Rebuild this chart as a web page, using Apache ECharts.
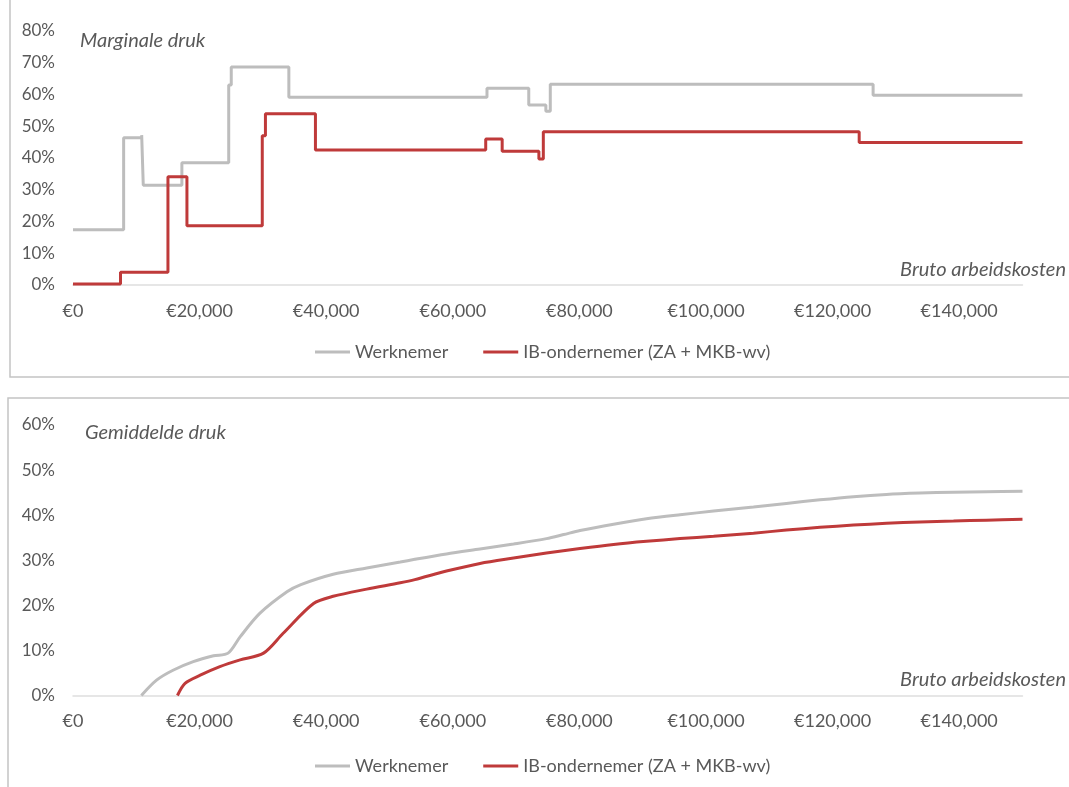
<!DOCTYPE html>
<html>
<head>
<meta charset="utf-8">
<script src="https://cdn.jsdelivr.net/npm/echarts@6/dist/echarts.min.js"></script>
<style>
  html, body { margin: 0; padding: 0; background: #fff; }
  #chart { width: 1069px; height: 787px; }
</style>
</head>
<body>
<div id="chart"></div>
<script>
// ---- Data ----
const seriesNames = ['Werknemer', 'IB-ondernemer (ZA + MKB-wv)'];
const xTickValues = [0, 20000, 40000, 60000, 80000, 100000, 120000, 140000];

// Marginale druk (step breakpoints: value holds from x onward)
const margX_W = [0, 8000, 10850, 11100, 17200, 24600, 25000, 34100, 65400, 72000, 74700, 75400, 126400, 150000];
const margY_W = [17.4, 46.4, 47.2, 31.4, 38.5, 63.0, 68.7, 59.1, 62.0, 56.7, 54.7, 63.2, 59.8, 59.8];
const margX_IB = [0, 7500, 15000, 18000, 29900, 30400, 38300, 65200, 67800, 73600, 74300, 124200, 150000];
const margY_IB = [0.3, 4.0, 34.1, 18.7, 47.0, 53.9, 42.5, 46.0, 42.1, 39.7, 48.3, 44.9, 44.9];

// Gemiddelde druk
const avgX_W = [10800, 13200, 15800, 19000, 22200, 24500, 26400, 29500, 33800, 36000, 41100, 46400, 51700, 54000, 59000, 64300, 69600, 74800, 77500, 80100, 85400, 90600, 95900, 101200, 107500, 112700, 118000, 123300, 128500, 133800, 139100, 144300, 150000];
const avgY_W = [0, 3.4, 5.6, 7.5, 8.8, 9.4, 13.0, 18.2, 23.0, 24.6, 26.9, 28.3, 29.6, 30.2, 31.4, 32.5, 33.6, 34.8, 35.7, 36.6, 38.0, 39.2, 40.1, 40.9, 41.8, 42.6, 43.4, 44.1, 44.6, 44.9, 45.1, 45.2, 45.3];
const avgX_IB = [16500, 17700, 20100, 23200, 26400, 30100, 33200, 38000, 41100, 46400, 51700, 54000, 59000, 64300, 69600, 74800, 80100, 85400, 90600, 95900, 101200, 107500, 112700, 118000, 123300, 128500, 133800, 139100, 144300, 150000];
const avgY_IB = [0, 2.7, 4.5, 6.4, 7.9, 9.4, 13.8, 20.4, 22.0, 23.6, 25.0, 25.7, 27.6, 29.3, 30.5, 31.6, 32.6, 33.5, 34.2, 34.8, 35.3, 36.0, 36.7, 37.3, 37.8, 38.2, 38.5, 38.7, 38.9, 39.1];

// ---- Styling ----
const FONT = 'Lato';
const TXT = '#595959';
const GREY = '#bdbdbd';
const RED = '#bf3a3a';

const zip = (xs, ys) => xs.map((x, i) => [x, ys[i]]);
const euro = v => '€' + Number(v).toLocaleString('en-US');

function xAxisCfg(gi) {
  return {
    gridIndex: gi, type: 'value', min: 0, max: 150000, interval: 20000,
    axisLine: { show: true, lineStyle: { color: '#dedede', width: 1.5 } },
    axisTick: { show: false }, splitLine: { show: false },
    axisLabel: {
      showMaxLabel: false, color: TXT, fontSize: 18, fontFamily: FONT, margin: 17,
      formatter: v => xTickValues.includes(v) ? euro(v) : ''
    }
  };
}
function yAxisCfg(gi, max) {
  return {
    gridIndex: gi, type: 'value', min: 0, max: max, interval: 10,
    axisLine: { show: false }, axisTick: { show: false }, splitLine: { show: false },
    axisLabel: { formatter: '{value}%', color: TXT, fontSize: 17, fontFamily: FONT, margin: 18 }
  };
}
function legendCfg(top) {
  return {
    data: seriesNames, left: 315, top: top, icon: 'rect', padding: 0,
    itemWidth: 35, itemHeight: 3, itemGap: 35,
    textStyle: { color: TXT, fontSize: 18, fontFamily: FONT, lineHeight: 20 }
  };
}
function lineSeries(name, xi, data, color, step) {
  const s = {
    type: 'line', name: name, xAxisIndex: xi, yAxisIndex: xi, data: data,
    symbol: 'none', showSymbol: false,
    lineStyle: { color: color, width: 3 }, itemStyle: { color: color }
  };
  if (step) s.step = 'end';
  else s.smooth = 0.3;
  return s;
}

const option = {
  backgroundColor: '#ffffff',
  animation: false,
  textStyle: { fontFamily: FONT },
  grid: [
    { left: 73, top: 31, width: 949.5, height: 254 },
    { left: 73, top: 425, width: 949.5, height: 270.5 }
  ],
  xAxis: [xAxisCfg(0), xAxisCfg(1)],
  yAxis: [yAxisCfg(0, 80), yAxisCfg(1, 60)],
  legend: [legendCfg(342), legendCfg(756)],
  graphic: [
    { type: 'rect', z: -10, shape: { x: 10, y: -10, width: 1100, height: 387 },
      style: { fill: 'none', stroke: '#c4c4c4', lineWidth: 1.5 } },
    { type: 'rect', z: -10, shape: { x: 8, y: 398, width: 1100, height: 420 },
      style: { fill: 'none', stroke: '#c4c4c4', lineWidth: 1.5 } },
    { type: 'text', x: 80, y: 41, style: { text: 'Marginale druk', fill: TXT, font: 'italic 20px ' + FONT, verticalAlign: 'middle' } },
    { type: 'text', x: 1066, y: 270, style: { text: 'Bruto arbeidskosten', fill: TXT, font: 'italic 20px ' + FONT, align: 'right', verticalAlign: 'middle' } },
    { type: 'text', x: 85, y: 433, style: { text: 'Gemiddelde druk', fill: TXT, font: 'italic 20px ' + FONT, verticalAlign: 'middle' } },
    { type: 'text', x: 1066, y: 680, style: { text: 'Bruto arbeidskosten', fill: TXT, font: 'italic 20px ' + FONT, align: 'right', verticalAlign: 'middle' } }
  ],
  series: [
    lineSeries(seriesNames[0], 0, zip(margX_W, margY_W), GREY, true),
    lineSeries(seriesNames[1], 0, zip(margX_IB, margY_IB), RED, true),
    lineSeries(seriesNames[0], 1, zip(avgX_W, avgY_W), GREY, false),
    lineSeries(seriesNames[1], 1, zip(avgX_IB, avgY_IB), RED, false)
  ]
};

const chart = echarts.init(document.getElementById('chart'), null, { renderer: 'canvas' });
chart.setOption(option);
</script>
</body>
</html>
